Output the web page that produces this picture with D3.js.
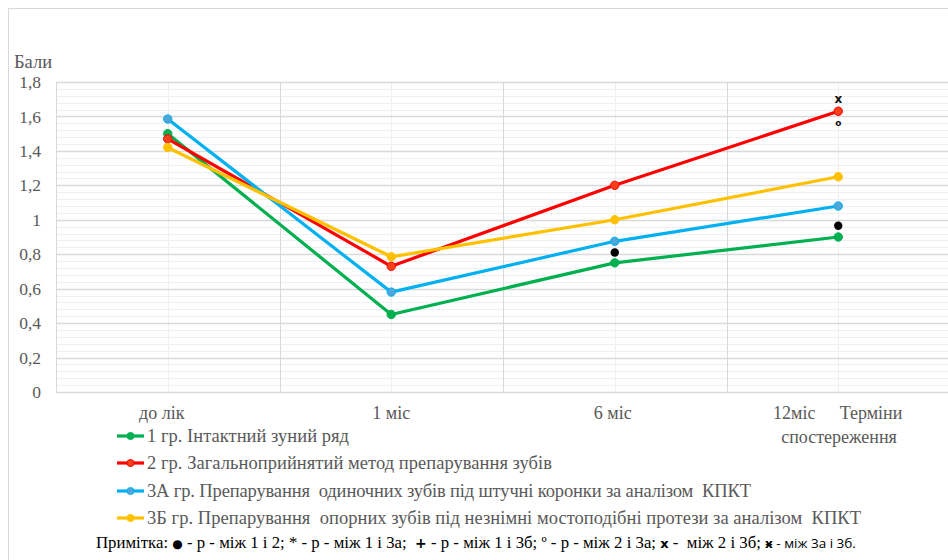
<!DOCTYPE html>
<html>
<head>
<meta charset="utf-8">
<script src="https://cdn.jsdelivr.net/npm/d3@7/dist/d3.min.js"></script>
</head>
<body style="margin:0">
<svg id="chart" width="948" height="560"></svg>
<script>
// Observation periods
const categories = ["до лік", "1 міс", "6 міс", "12міс"];

// Mean scores per group
const group1  = [1.50, 0.45, 0.75, 0.90];
const group2  = [1.47, 0.73, 1.20, 1.63];
const group3A = [1.585, 0.58, 0.875, 1.08];
const group3B = [1.42, 0.785, 1.00, 1.25];

const seriesNames = [
  "1 гр. Інтактний зуний ряд",
  "2 гр. Загальноприйнятий метод препарування зубів",
  "3А гр. Препарування  одиночних зубів під штучні коронки за аналізом  КПКТ",
  "3Б гр. Препарування  опорних зубів під незнімні мостоподібні протези за аналізом  КПКТ"
];

// Y axis ticks
const yTicks = [0, 0.2, 0.4, 0.6, 0.8, 1.0, 1.2, 1.4, 1.6, 1.8];

// Significance marks placed next to points
const sigDots = [
  { cat: "6 міс", value: 0.81 },
  { cat: "12міс", value: 0.965 }
];
const sigSymbols = [
  { cat: "12міс", value: 1.705, symbol: "x" },
  { cat: "12міс", value: 1.56, symbol: "o" }
];

const colors = ["#00B050", "#FF0000", "#00B0F0", "#FFC000"];
const markerFill = ["#00B050", "#F5401A", "#4FA6D8", "#FFC000"];
const seriesValues = [group1, group2, group3A, group3B];

const SERIF = "'Liberation Serif', serif";
const SANS = "'DejaVu Sans', sans-serif";

const svg = d3.select("#chart");
const W = 948, H = 560;

// outer chart border
svg.append("rect")
  .attr("x", 8.5).attr("y", 8.5)
  .attr("width", W + 10).attr("height", H + 10)
  .attr("fill", "none").attr("stroke", "#d9d9d9");

const plot = { left: 56, right: 950, top: 82, bottom: 392 };

const x = d3.scaleBand().domain(categories).range([plot.left, plot.right]);
const y = d3.scaleLinear().domain([0, 1.8]).range([plot.bottom, plot.top]);
const cx = c => x(c) + x.bandwidth() / 2;

const g = svg.append("g");

// minor horizontal grid
const minor = d3.range(0, 1.8001, 0.04).filter(v => Math.abs(Math.round(v / 0.2) * 0.2 - v) > 1e-6);
g.selectAll(".minor").data(minor).join("line")
  .attr("x1", plot.left).attr("x2", plot.right)
  .attr("y1", d => Math.round(y(d)) + 0.5).attr("y2", d => Math.round(y(d)) + 0.5)
  .attr("stroke", "#f0f0f0").attr("stroke-width", 1);

// vertical grid at category centres (light) and boundaries (darker)
g.selectAll(".vmin").data(categories).join("line")
  .attr("x1", d => Math.round(cx(d)) + 0.5).attr("x2", d => Math.round(cx(d)) + 0.5)
  .attr("y1", plot.top).attr("y2", plot.bottom)
  .attr("stroke", "#efefef");
g.selectAll(".vmaj").data(categories.slice(1)).join("line")
  .attr("x1", d => Math.round(x(d)) + 0.5).attr("x2", d => Math.round(x(d)) + 0.5)
  .attr("y1", plot.top).attr("y2", plot.bottom)
  .attr("stroke", "#d9d9d9");

// major horizontal grid
g.selectAll(".major").data(yTicks).join("line")
  .attr("x1", plot.left).attr("x2", plot.right)
  .attr("y1", d => Math.round(y(d)) + 0.5).attr("y2", d => Math.round(y(d)) + 0.5)
  .attr("stroke", "#d9d9d9").attr("stroke-width", d => d === 0 ? 1.5 : 1.3);

// plot left edge
g.append("line")
  .attr("x1", plot.left + 0.5).attr("x2", plot.left + 0.5)
  .attr("y1", plot.top).attr("y2", plot.bottom)
  .attr("stroke", "#d9d9d9");

// Y axis labels
const yAxis = d3.axisLeft(y).tickValues(yTicks).tickSize(0).tickPadding(0)
  .tickFormat(d => d3.format(".1f")(d).replace(/\.0$/, "").replace(".", ","));
const yg = svg.append("g").attr("transform", `translate(${41},0)`).call(yAxis)
  .attr("font-family", null).attr("font-size", null);
yg.select(".domain").remove();
yg.selectAll("text").style("font-family", SERIF)
  .style("font-size", "17.5px").attr("fill", "#595959").attr("dy", "0.32em");

svg.append("text").style("font-family", SERIF).attr("x", 14).attr("y", 68)
  .style("font-size", "18.5px").attr("fill", "#595959").text("Бали");

// X axis labels
const xAxis = d3.axisBottom(x).tickSize(0).tickPadding(0);
const xg = svg.append("g").attr("transform", `translate(0,${plot.bottom})`).call(xAxis)
  .attr("font-family", null).attr("font-size", null);
xg.select(".domain").remove();
xg.selectAll("text").style("font-family", SERIF)
  .style("font-size", "18px").attr("fill", "#595959").attr("y", 27).attr("dy", 0)
  .attr("dx", (d, i) => [-6, 0, -2, -44][i]);

// axis title
const tt = svg.append("text").style("font-family", SERIF)
  .style("font-size", "18px").attr("fill", "#595959").attr("text-anchor", "middle");
tt.append("tspan").attr("x", 871).attr("y", 419).text("Терміни");
tt.append("tspan").attr("x", 839).attr("y", 443).text("спостереження");

// series lines and markers
const line = d3.line().x((d, i) => cx(categories[i])).y(d => y(d));
seriesValues.forEach((vals, s) => {
  svg.append("path").datum(vals)
    .attr("d", line).attr("fill", "none")
    .attr("stroke", colors[s]).attr("stroke-width", 3.2)
    .attr("stroke-linejoin", "round");
  svg.append("g").selectAll("circle").data(vals).join("circle")
    .attr("cx", (d, i) => cx(categories[i])).attr("cy", d => y(d))
    .attr("r", 4.2).attr("fill", markerFill[s])
    .attr("stroke", colors[s]).attr("stroke-width", 1);
});

// significance marks
svg.append("g").selectAll("circle").data(sigDots).join("circle")
  .attr("cx", d => cx(d.cat)).attr("cy", d => y(d.value))
  .attr("r", 4.2).attr("fill", "#000");
svg.append("g").selectAll("text").data(sigSymbols).join("text")
  .attr("x", d => cx(d.cat)).attr("y", d => y(d.value))
  .attr("dy", "0.35em").attr("text-anchor", "middle")
  .style("font-family", SANS).style("font-weight", "bold")
  .style("font-size", d => d.symbol === "x" ? "12px" : "9px")
  .attr("fill", "#111").text(d => d.symbol);

// legend
const legendY = [436, 463, 491, 518];
const legendTextWidth = [202, 405, 604, 714];
const lg = svg.append("g");
seriesNames.forEach((name, s) => {
  const row = lg.append("g").attr("transform", `translate(0,${legendY[s]})`);
  row.append("line").attr("x1", 117).attr("x2", 144).attr("y1", 0).attr("y2", 0)
    .attr("stroke", colors[s]).attr("stroke-width", 3.2);
  row.append("circle").attr("cx", 130.5).attr("cy", 0).attr("r", 3.5)
    .attr("fill", markerFill[s]).attr("stroke", colors[s]);
  row.append("text").style("font-family", SERIF).attr("x", 147).attr("y", 6)
    .style("font-size", "18.5px").attr("fill", "#595959")
    .attr("textLength", legendTextWidth[s]).attr("lengthAdjust", "spacing")
    .style("white-space", "pre").text(name);
});

// footnote
const note = svg.append("text").style("font-family", SERIF).attr("x", 96).attr("y", 548)
  .style("font-size", "16.8px").attr("fill", "#000").style("white-space", "pre");
note.append("tspan").text("Примітка: ");
note.append("tspan").style("font-family", SANS).style("font-size", "12px").text("●");
note.append("tspan").text(" - р - між 1 і 2; * - р - між 1 і 3а;  ");
note.append("tspan").style("font-family", SANS).style("font-weight", "bold").style("font-size", "14px").text("+");
note.append("tspan").text(" - р - між 1 і 3б; º - р - між 2 і 3а; ");
note.append("tspan").style("font-family", SANS).style("font-weight", "bold").style("font-size", "13px").text("x");
note.append("tspan").text(" -  між 2 і 3б; ");
note.append("tspan").style("font-family", SANS).style("font-weight", "bold").style("font-size", "12px").text("ӿ");
note.append("tspan").style("font-family", "'Open Sans', sans-serif").style("font-size", "13.5px").text(" - між 3а і 3б.");
</script>
</body>
</html>
